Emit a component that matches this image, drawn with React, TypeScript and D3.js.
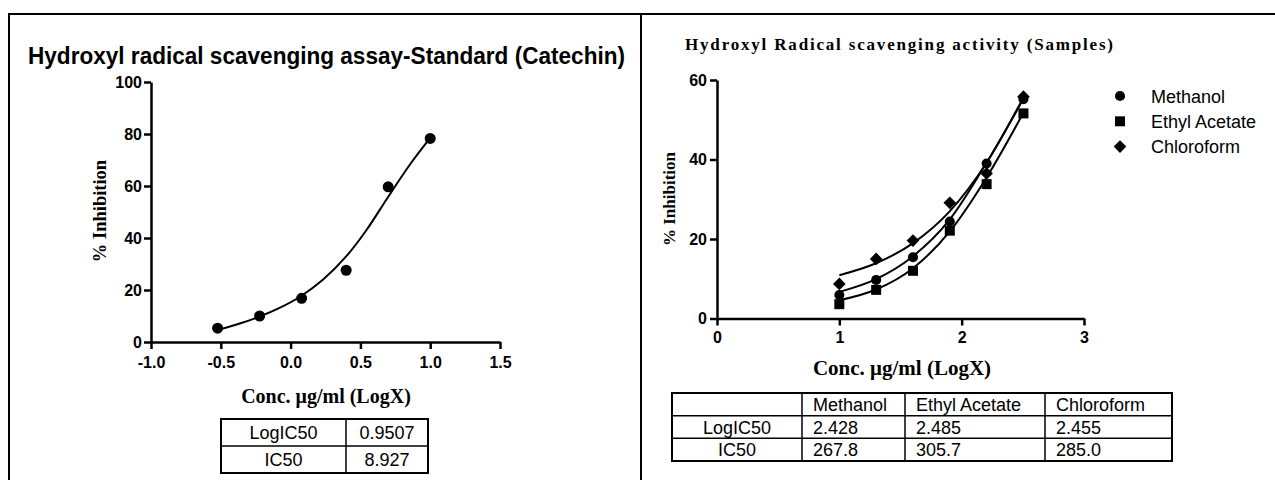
import React, { useEffect, useRef } from 'react';
import * as d3 from 'd3';

// standard (catechin)
const stdLogConc = [-0.523, -0.222, 0.079, 0.398, 0.699, 1.0];
const stdInhibition = [5.3, 10.0, 16.8, 27.6, 59.7, 78.3];
const stdFitX = [-0.52, -0.364, -0.221, -0.079, 0.076, 0.231, 0.398, 0.54, 0.695, 0.85, 1.0];
const stdFitY = [4.6, 7.1, 9.8, 13.1, 17.7, 23.9, 32.9, 42.8, 55.5, 67.9, 78.5];
const stdTable = [['LogIC50', '0.9507'], ['IC50', '8.927']];

// samples
const sampleLogConc = [1.0, 1.301, 1.602, 1.903, 2.204, 2.505];
const sampleNames = ['Methanol', 'Ethyl Acetate', 'Chloroform'];
const methanol = [5.9, 9.7, 15.4, 24.4, 39.0, 55.2];
const ethylAcetate = [3.6, 7.2, 12.0, 22.1, 33.8, 51.6];
const chloroform = [8.7, 15.0, 19.6, 29.1, 36.5, 55.8];
const fitX = [1.0, 1.3, 1.6, 1.9, 2.2, 2.5];
const methanolFit = [6.7, 9.9, 15.6, 24.8, 39.0, 55.0];
const ethylAcetateFit = [4.6, 7.3, 12.6, 21.8, 35.3, 51.5];
const chloroformFit = [10.9, 13.9, 18.9, 26.9, 39.0, 55.3];
const sampleLogIC50 = ['2.428', '2.485', '2.455'];
const sampleIC50 = ['267.8', '305.7', '285.0'];

const SANS = 'Liberation Sans, Arial, sans-serif';
const SERIF = 'Liberation Serif, Times New Roman, serif';

// diamond = square turned 45 degrees
const diamondSym = {
  draw(ctx, size) {
    const h = Math.sqrt(size / 2);
    ctx.moveTo(0, -h);
    ctx.lineTo(h, 0);
    ctx.lineTo(0, h);
    ctx.lineTo(-h, 0);
    ctx.closePath();
  },
};

export default function App() {
  const svgRef = useRef(null);

  useEffect(() => {
    const svg = d3.select(svgRef.current);
    svg.selectAll('*').remove();

    // outer frame + divider
    svg.append('rect').attr('x', 9).attr('y', 14).attr('width', 1300).attr('height', 500)
      .attr('fill', 'none').attr('stroke', '#000').attr('stroke-width', 2);
    svg.append('line').attr('x1', 641).attr('x2', 641).attr('y1', 14).attr('y2', 480)
      .attr('stroke', '#000').attr('stroke-width', 2);

    const styleAxis = (g) => {
      g.select('.domain').attr('stroke-width', 2.5);
      g.selectAll('.tick line').attr('stroke-width', 2.5);
      g.selectAll('.tick text').attr('font-family', SANS).attr('font-weight', 'bold')
        .attr('font-size', 16).attr('fill', '#000');
    };
    const fmt1 = (d) => d3.format('.1f')(d).replace('−', '-');

    // ---------- left chart ----------
    const x1 = d3.scaleLinear().domain([-1, 1.5]).range([151, 500]);
    const y1 = d3.scaleLinear().domain([0, 100]).range([342, 82]);

    svg.append('text').attr('x', 28).attr('y', 64)
      .attr('font-family', SANS).attr('font-weight', 'bold').attr('font-size', 24)
      .attr('textLength', 597).attr('lengthAdjust', 'spacingAndGlyphs')
      .text('Hydroxyl radical scavenging assay-Standard (Catechin)');

    svg.append('g').attr('transform', `translate(0,${y1(0)})`)
      .call(d3.axisBottom(x1).tickValues([-1, -0.5, 0, 0.5, 1, 1.5]).tickFormat(fmt1)
        .tickSize(7).tickSizeOuter(0).tickPadding(8))
      .call(styleAxis);
    svg.append('g').attr('transform', `translate(${x1(-1)},0)`)
      .call(d3.axisLeft(y1).tickValues([0, 20, 40, 60, 80, 100]).tickSize(7).tickSizeOuter(0).tickPadding(2))
      .call(styleAxis);

    svg.append('text').attr('transform', `translate(106,211) rotate(-90)`)
      .attr('text-anchor', 'middle').attr('font-family', SERIF).attr('font-weight', 'bold')
      .attr('font-size', 18.5).text('% Inhibition');
    svg.append('text').attr('x', 326).attr('y', 403).attr('text-anchor', 'middle')
      .attr('font-family', SERIF).attr('font-weight', 'bold').attr('font-size', 20)
      .text('Conc. μg/ml (LogX)');

    const line1 = d3.line().x((d) => x1(d[0])).y((d) => y1(d[1])).curve(d3.curveCatmullRom);
    svg.append('path').datum(d3.zip(stdFitX, stdFitY)).attr('d', line1)
      .attr('fill', 'none').attr('stroke', '#000').attr('stroke-width', 2);
    svg.append('g').selectAll('circle').data(d3.zip(stdLogConc, stdInhibition)).join('circle')
      .attr('cx', (d) => x1(d[0])).attr('cy', (d) => y1(d[1])).attr('r', 5.5).attr('fill', '#000');

    // left table
    const tx1 = [221, 346, 428];
    const ty1 = [419, 446, 473];
    const tbl1 = svg.append('g');
    tbl1.append('rect').attr('x', tx1[0]).attr('y', ty1[0]).attr('width', tx1[2] - tx1[0])
      .attr('height', ty1[2] - ty1[0]).attr('fill', 'none').attr('stroke', '#000').attr('stroke-width', 2);
    tbl1.append('line').attr('x1', tx1[1]).attr('x2', tx1[1]).attr('y1', ty1[0]).attr('y2', ty1[2])
      .attr('stroke', '#000').attr('stroke-width', 1.5);
    tbl1.append('line').attr('x1', tx1[0]).attr('x2', tx1[2]).attr('y1', ty1[1]).attr('y2', ty1[1])
      .attr('stroke', '#000').attr('stroke-width', 1.5);
    stdTable.forEach((row, i) => {
      row.forEach((cell, j) => {
        tbl1.append('text').attr('x', (tx1[j] + tx1[j + 1]) / 2).attr('y', (ty1[i] + ty1[i + 1]) / 2 + 6.5)
          .attr('text-anchor', 'middle').attr('font-family', SANS).attr('font-size', 18).text(cell);
      });
    });

    // ---------- right chart ----------
    const x2 = d3.scaleLinear().domain([0, 3]).range([717, 1084]);
    const y2 = d3.scaleLinear().domain([0, 60]).range([318.5, 80]);

    svg.append('text').attr('x', 685).attr('y', 50)
      .attr('font-family', SERIF).attr('font-weight', 'bold').attr('font-size', 17)
      .attr('textLength', 428).attr('lengthAdjust', 'spacing')
      .text('Hydroxyl Radical scavenging activity (Samples)');

    svg.append('g').attr('transform', `translate(0,${y2(0)})`)
      .call(d3.axisBottom(x2).tickValues([0, 1, 2, 3]).tickFormat(d3.format('d'))
        .tickSize(7).tickSizeOuter(0).tickPadding(6))
      .call(styleAxis);
    svg.append('g').attr('transform', `translate(${x2(0)},0)`)
      .call(d3.axisLeft(y2).tickValues([0, 20, 40, 60]).tickSize(7).tickSizeOuter(0).tickPadding(3))
      .call(styleAxis);

    svg.append('text').attr('transform', `translate(675,199) rotate(-90)`)
      .attr('text-anchor', 'middle').attr('font-family', SERIF).attr('font-weight', 'bold')
      .attr('font-size', 17).text('% Inhibition');
    svg.append('text').attr('x', 902).attr('y', 375).attr('text-anchor', 'middle')
      .attr('font-family', SERIF).attr('font-weight', 'bold').attr('font-size', 21)
      .text('Conc. μg/ml (LogX)');

    const series = [
      { vals: methanol, fit: methanolFit, sym: d3.symbolCircle, size: 80 },
      { vals: ethylAcetate, fit: ethylAcetateFit, sym: d3.symbolSquare, size: 100 },
      { vals: chloroform, fit: chloroformFit, sym: diamondSym, size: 80 },
    ];
    const line2 = d3.line().x((d) => x2(d[0])).y((d) => y2(d[1])).curve(d3.curveMonotoneX);
    series.forEach((s) => {
      svg.append('path').datum(d3.zip(fitX, s.fit)).attr('d', line2)
        .attr('fill', 'none').attr('stroke', '#000').attr('stroke-width', 2);
    });
    series.forEach((s) => {
      svg.append('g').selectAll('path').data(d3.zip(sampleLogConc, s.vals)).join('path')
        .attr('transform', (d) => `translate(${x2(d[0])},${y2(d[1])})`)
        .attr('d', d3.symbol(s.sym, s.size)()).attr('fill', '#000');
    });

    // legend
    series.forEach((s, i) => {
      const ly = 96 + i * 25.3;
      svg.append('path').attr('transform', `translate(1120,${ly})`)
        .attr('d', d3.symbol(s.sym, s.size)()).attr('fill', '#000');
      svg.append('text').attr('x', 1151).attr('y', ly + 6.5).attr('font-family', SANS)
        .attr('font-size', 18).text(sampleNames[i]);
    });

    // right table
    const tx2 = [672, 802, 905, 1045, 1172];
    const ty2 = [393, 415.7, 438.3, 461];
    const tbl2 = svg.append('g');
    tbl2.append('rect').attr('x', tx2[0]).attr('y', ty2[0]).attr('width', tx2[4] - tx2[0])
      .attr('height', ty2[3] - ty2[0]).attr('fill', 'none').attr('stroke', '#000').attr('stroke-width', 2);
    tx2.slice(1, 4).forEach((xv) => {
      tbl2.append('line').attr('x1', xv).attr('x2', xv).attr('y1', ty2[0]).attr('y2', ty2[3])
        .attr('stroke', '#000').attr('stroke-width', 1.5);
    });
    ty2.slice(1, 3).forEach((yv) => {
      tbl2.append('line').attr('x1', tx2[0]).attr('x2', tx2[4]).attr('y1', yv).attr('y2', yv)
        .attr('stroke', '#000').attr('stroke-width', 1.5);
    });
    const rows = [
      ['', ...sampleNames],
      ['LogIC50', ...sampleLogIC50],
      ['IC50', ...sampleIC50],
    ];
    rows.forEach((row, i) => {
      row.forEach((cell, j) => {
        const cy = (ty2[i] + ty2[i + 1]) / 2 + 6.5;
        tbl2.append('text')
          .attr('x', j === 0 ? (tx2[0] + tx2[1]) / 2 : tx2[j] + 11)
          .attr('y', cy).attr('text-anchor', j === 0 ? 'middle' : 'start')
          .attr('font-family', SANS).attr('font-size', 18).text(cell);
      });
    });
  }, []);

  return (
    <svg ref={svgRef} width={1275} height={480}
      style={{ position: 'fixed', left: 0, top: 0, background: '#fff' }} />
  );
}
